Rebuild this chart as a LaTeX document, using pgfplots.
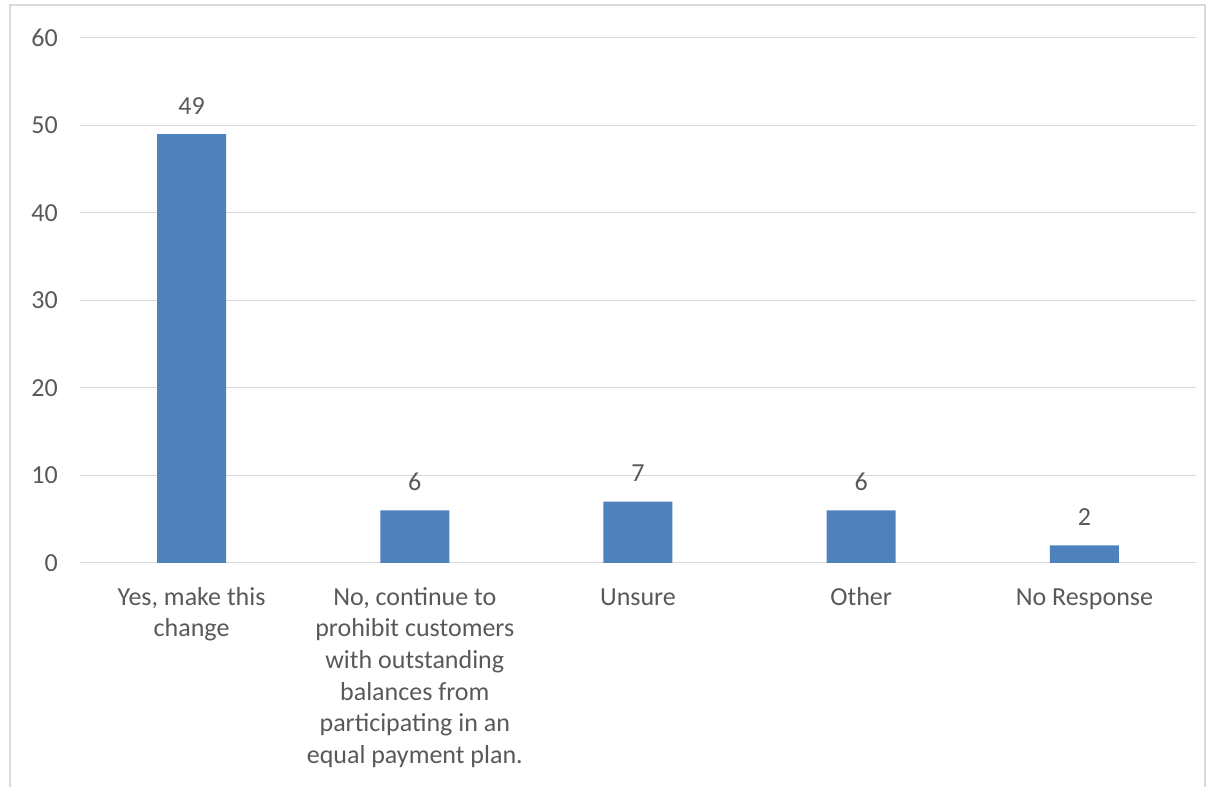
\documentclass[border=0pt]{standalone}
\usepackage{pgfplots}
\pgfplotsset{compat=1.18}
\usepackage{fontspec}
\setmainfont{Carlito}
\definecolor{barblue}{HTML}{4F81BD}
\definecolor{gridgray}{HTML}{D9D9D9}
\definecolor{txtgray}{HTML}{595959}
\begin{document}
\begin{tikzpicture}[x=1bp,y=1bp]
\path[use as bounding box] (0,0) rectangle (1211,787);
\draw[gridgray, line width=1.5bp] (10,-10) rectangle (1205,782);
\begin{axis}[
  at={(80bp,224bp)}, anchor=south west,
  scale only axis, width=1116bp, height=525bp,
  ybar, bar width=69bp, bar shift=0pt,
  xmin=-0.5, xmax=4.5, ymin=0, ymax=60,
  ytick={0,10,...,60},
  xtick={0,1,2,3,4},
  xticklabels={{\strut Yes, make this\\change},
    {\strut No, continue to\\prohibit customers\\with outstanding\\balances from\\participating in an\\equal payment plan.},
    {\strut Unsure},{\strut Other},{\strut No Response}},
  axis line style={draw=none},
  major tick length=0pt,
  ymajorgrids, grid style={gridgray, line width=1bp},
  /pgf/number format/assume math mode=true,
  tick label style={font=\fontsize{26bp}{31.6bp}\selectfont, text=txtgray},
  yticklabel style={anchor=east, inner sep=0pt, xshift=-22bp},
  xticklabel style={anchor=north, inner sep=0pt, yshift=-20bp, align=center},
  nodes near coords,
  every node near coord/.append style={font=\fontsize{26bp}{31.6bp}\selectfont, text=txtgray, anchor=south, inner sep=0pt, yshift=20bp},
]
\addplot[fill=barblue, draw=none] coordinates {(0,49) (1,6) (2,7) (3,6) (4,2)};
\end{axis}
\end{tikzpicture}
\end{document}
